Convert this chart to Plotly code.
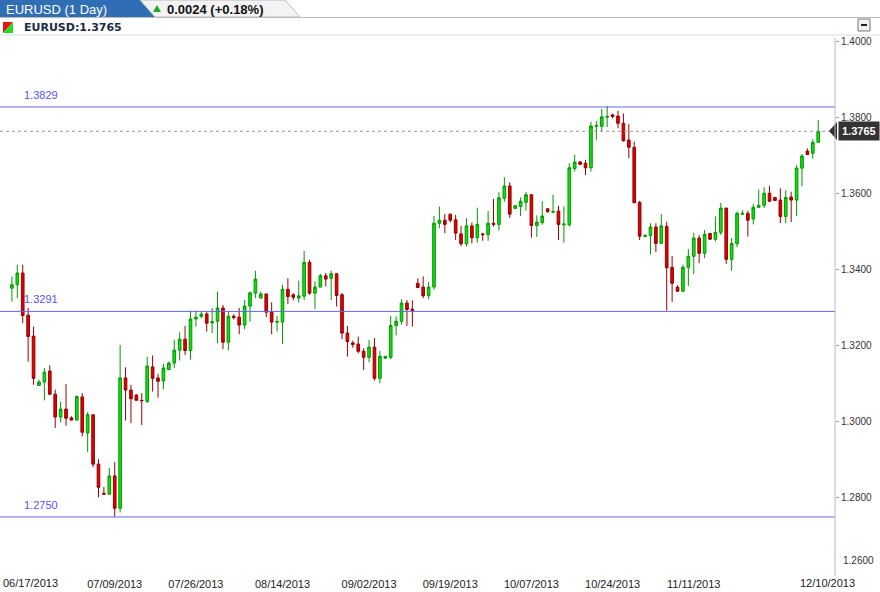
import pandas as pd
import plotly.graph_objects as go

# daily EURUSD candles, Sunday-Friday sessions
days = pd.date_range("2013-06-17", "2013-12-10", freq="D")
days = [d for d in days if d.dayofweek != 5]
labels = [d.strftime("%m/%d/%Y") for d in days]

opens = [1.3352, 1.3361, 1.3392, 1.3281, 1.3226, 1.3096, 1.3105, 1.3134, 1.3073, 1.3013,
         1.3034, 1.3011, 1.3005, 1.3066, 1.2971, 1.3019, 1.2889, 1.2812, 1.2810, 1.2858,
         1.2773, 1.3116, 1.3084, 1.3071, 1.3057, 1.3054, 1.3145, 1.3116, 1.3108, 1.3138,
         1.3155, 1.3189, 1.3218, 1.3188, 1.3271, 1.3278, 1.3284, 1.3261, 1.3265, 1.3300,
         1.3210, 1.3278, 1.3276, 1.3255, 1.3305, 1.3339, 1.3326, 1.3337, 1.3290, 1.3263,
         1.3263, 1.3349, 1.3335, 1.3326, 1.3331, 1.3420, 1.3339, 1.3355, 1.3385, 1.3378,
         1.3390, 1.3335, 1.3234, 1.3208, 1.3205, 1.3186, 1.3170, 1.3197, 1.3115, 1.3168,
         1.3170, 1.3254, 1.3265, 1.3313, 1.3297, 1.3365, 1.3355, 1.3333, 1.3355, 1.3523,
         1.3531, 1.3547, 1.3532, 1.3495, 1.3469, 1.3516, 1.3485, 1.3495, 1.3493, 1.3523,
         1.3520, 1.3589, 1.3621, 1.3562, 1.3567, 1.3578, 1.3598, 1.3517, 1.3525, 1.3561,
         1.3552, 1.3555, 1.3519, 1.3519, 1.3667, 1.3684, 1.3681, 1.3669, 1.3778, 1.3778,
         1.3802, 1.3808, 1.3805, 1.3786, 1.3742, 1.3723, 1.3578, 1.3488, 1.3491, 1.3513,
         1.3470, 1.3515, 1.3407, 1.3355, 1.3344, 1.3407, 1.3436, 1.3484, 1.3444, 1.3496,
         1.3481, 1.3499, 1.3563, 1.3428, 1.3469, 1.3547, 1.3549, 1.3534, 1.3565, 1.3570,
         1.3602, 1.3591, 1.3584, 1.3541, 1.3592, 1.3584, 1.3668, 1.3713, 1.3707, 1.3736]
highs = [1.3383, 1.3414, 1.3414, 1.3300, 1.3251, 1.3111, 1.3142, 1.3149, 1.3085, 1.3054,
         1.3100, 1.3015, 1.3070, 1.3076, 1.3026, 1.3019, 1.2902, 1.2829, 1.2879, 1.2895,
         1.3203, 1.3144, 1.3098, 1.3073, 1.3076, 1.3172, 1.3175, 1.3127, 1.3153, 1.3159,
         1.3216, 1.3236, 1.3253, 1.3293, 1.3293, 1.3291, 1.3291, 1.3300, 1.3343, 1.3308,
         1.3291, 1.3284, 1.3300, 1.3321, 1.3343, 1.3398, 1.3343, 1.3337, 1.3315, 1.3279,
         1.3361, 1.3378, 1.3339, 1.3372, 1.3450, 1.3427, 1.3370, 1.3390, 1.3392, 1.3398,
         1.3392, 1.3339, 1.3253, 1.3214, 1.3225, 1.3194, 1.3216, 1.3221, 1.3187, 1.3174,
         1.3279, 1.3278, 1.3323, 1.3321, 1.3320, 1.3378, 1.3383, 1.3368, 1.3542, 1.3567,
         1.3548, 1.3548, 1.3545, 1.3516, 1.3536, 1.3525, 1.3564, 1.3498, 1.3555, 1.3587,
         1.3605, 1.3644, 1.3631, 1.3569, 1.3591, 1.3605, 1.3600, 1.3544, 1.3581, 1.3562,
         1.3598, 1.3569, 1.3567, 1.3681, 1.3703, 1.3687, 1.3690, 1.3790, 1.3792, 1.3824,
         1.3832, 1.3811, 1.3819, 1.3812, 1.3784, 1.3738, 1.3582, 1.3495, 1.3523, 1.3523,
         1.3547, 1.3527, 1.3437, 1.3360, 1.3414, 1.3455, 1.3498, 1.3492, 1.3505, 1.3498,
         1.3541, 1.3577, 1.3563, 1.3484, 1.3554, 1.3557, 1.3556, 1.3574, 1.3612, 1.3618,
         1.3621, 1.3591, 1.3615, 1.3610, 1.3606, 1.3676, 1.3705, 1.3720, 1.3744, 1.3795]
lows = [1.3317, 1.3326, 1.3260, 1.3159, 1.3098, 1.3096, 1.3057, 1.3072, 1.2984, 1.2999,
        1.2990, 1.3004, 1.3004, 1.2962, 1.2921, 1.2881, 1.2802, 1.2809, 1.2810, 1.2751,
        1.2762, 1.3004, 1.2997, 1.3057, 1.2992, 1.3050, 1.3080, 1.3064, 1.3086, 1.3136,
        1.3142, 1.3162, 1.3176, 1.3164, 1.3251, 1.3273, 1.3238, 1.3234, 1.3207, 1.3192,
        1.3188, 1.3270, 1.3231, 1.3244, 1.3264, 1.3326, 1.3326, 1.3276, 1.3231, 1.3238,
        1.3205, 1.3310, 1.3320, 1.3314, 1.3321, 1.3335, 1.3297, 1.3355, 1.3357, 1.3321,
        1.3304, 1.3218, 1.3172, 1.3195, 1.3181, 1.3137, 1.3157, 1.3109, 1.3102, 1.3166,
        1.3165, 1.3228, 1.3256, 1.3253, 1.3251, 1.3352, 1.3326, 1.3323, 1.3348, 1.3510,
        1.3497, 1.3525, 1.3479, 1.3463, 1.3462, 1.3470, 1.3472, 1.3477, 1.3477, 1.3514,
        1.3504, 1.3580, 1.3537, 1.3562, 1.3542, 1.3556, 1.3485, 1.3487, 1.3519, 1.3550,
        1.3549, 1.3479, 1.3472, 1.3514, 1.3659, 1.3676, 1.3650, 1.3659, 1.3742, 1.3764,
        1.3776, 1.3799, 1.3773, 1.3738, 1.3694, 1.3576, 1.3479, 1.3488, 1.3441, 1.3447,
        1.3469, 1.3293, 1.3316, 1.3343, 1.3343, 1.3358, 1.3389, 1.3418, 1.3431, 1.3479,
        1.3475, 1.3492, 1.3416, 1.3398, 1.3460, 1.3546, 1.3488, 1.3520, 1.3564, 1.3563,
        1.3579, 1.3583, 1.3523, 1.3523, 1.3526, 1.3542, 1.3620, 1.3703, 1.3693, 1.3734]
closes = [1.3361, 1.3392, 1.3280, 1.3225, 1.3115, 1.3105, 1.3131, 1.3073, 1.3013, 1.3034,
          1.3010, 1.3005, 1.3067, 1.2973, 1.3019, 1.2889, 1.2828, 1.2810, 1.2858, 1.2773,
          1.3116, 1.3084, 1.3061, 1.3057, 1.3056, 1.3147, 1.3115, 1.3107, 1.3142, 1.3155,
          1.3189, 1.3218, 1.3188, 1.3271, 1.3276, 1.3284, 1.3260, 1.3264, 1.3300, 1.3210,
          1.3278, 1.3275, 1.3255, 1.3305, 1.3340, 1.3376, 1.3337, 1.3289, 1.3263, 1.3264,
          1.3349, 1.3330, 1.3328, 1.3332, 1.3420, 1.3339, 1.3355, 1.3385, 1.3376, 1.3390,
          1.3333, 1.3234, 1.3212, 1.3204, 1.3186, 1.3170, 1.3197, 1.3115, 1.3173, 1.3172,
          1.3254, 1.3265, 1.3313, 1.3296, 1.3293, 1.3354, 1.3332, 1.3355, 1.3523, 1.3531,
          1.3520, 1.3531, 1.3497, 1.3469, 1.3516, 1.3485, 1.3520, 1.3493, 1.3523, 1.3520,
          1.3590, 1.3621, 1.3547, 1.3569, 1.3581, 1.3598, 1.3517, 1.3526, 1.3542, 1.3554,
          1.3554, 1.3520, 1.3521, 1.3669, 1.3684, 1.3678, 1.3669, 1.3779, 1.3780, 1.3803,
          1.3804, 1.3804, 1.3786, 1.3740, 1.3723, 1.3577, 1.3489, 1.3490, 1.3513, 1.3470,
          1.3516, 1.3406, 1.3365, 1.3344, 1.3407, 1.3436, 1.3484, 1.3444, 1.3494, 1.3481,
          1.3499, 1.3563, 1.3428, 1.3470, 1.3549, 1.3549, 1.3531, 1.3565, 1.3570, 1.3602,
          1.3581, 1.3583, 1.3541, 1.3591, 1.3584, 1.3668, 1.3700, 1.3704, 1.3736, 1.3765]

tick_dates = ["07/09/2013", "07/26/2013", "08/14/2013", "09/02/2013", "09/19/2013",
              "10/07/2013", "10/24/2013", "11/11/2013"]
price_ticks = [1.28, 1.30, 1.32, 1.34, 1.36, 1.38, 1.40]
levels = [1.3829, 1.3291, 1.2750]
last_price = closes[-1]

W, H = 880, 592
L, R, T, B = 0, 45, 38, 16
pw, ph = W - L - R, H - T - B
def px(x):
    return (x - L) / pw
def py(y):
    return (H - B - y) / ph

idx = list(range(len(labels)))
fig = go.Figure()
fig.add_trace(go.Candlestick(
    x=idx, open=opens, high=highs, low=lows, close=closes, text=labels,
    increasing=dict(line=dict(color="#009900", width=1), fillcolor="#11dd11"),
    decreasing=dict(line=dict(color="#990000", width=1), fillcolor="#e00000"),
    whiskerwidth=0, showlegend=False))

shapes = []
annos = []
for lv in levels:
    shapes.append(dict(type="line", xref="paper", x0=0, x1=1, yref="y", y0=lv, y1=lv,
                       line=dict(color="#6666ee", width=1)))
    annos.append(dict(xref="paper", x=px(22), yref="y", y=lv, yshift=12, text=f"{lv:.4f}",
                      showarrow=False, xanchor="left", yanchor="middle",
                      font=dict(size=11, color="#5555ee")))
shapes.append(dict(type="line", xref="paper", x0=0, x1=1, yref="y", y0=last_price, y1=last_price,
                   line=dict(color="#999999", width=1, dash="dot")))
annos.append(dict(xref="paper", x=px(838), yref="y", y=last_price, text=f"<b>{last_price:.4f}</b>",
                  showarrow=False, xanchor="left", yanchor="middle", bgcolor="#333333", borderpad=3,
                  font=dict(size=11, color="white")))
shapes.append(dict(type="path", xref="paper", yref="paper",
                   path=f"M {px(829)} {py(131)} L {px(837)} {py(122)} L {px(837)} {py(140)} Z",
                   fillcolor="#333333", line=dict(width=0)))

# header
shapes += [
    dict(type="rect", xref="paper", yref="paper", x0=px(0), x1=px(W), y0=py(38), y1=py(0),
         fillcolor="white", line=dict(width=0), layer="below"),
    dict(type="path", xref="paper", yref="paper",
         path=f"M {px(0)} {py(17)} L {px(0)} {py(0)} L {px(140)} {py(0)} L {px(155)} {py(17)} Z",
         fillcolor="#2f6db5", line=dict(width=0)),
    dict(type="path", xref="paper", yref="paper",
         path=f"M {px(155)} {py(17)} L {px(140)} {py(0)} L {px(285)} {py(0)} L {px(300)} {py(17)} Z",
         fillcolor="#f3f3f3", line=dict(color="#bbbbbb", width=1)),
    dict(type="line", xref="paper", yref="paper", x0=px(0), x1=px(W), y0=py(17.5), y1=py(17.5),
         line=dict(color="#bbbbbb", width=1)),
    dict(type="line", xref="paper", yref="paper", x0=px(0), x1=px(W), y0=py(35), y1=py(35),
         line=dict(color="#dddddd", width=1)),
    dict(type="path", xref="paper", yref="paper",
         path=f"M {px(3)} {py(22)} L {px(13)} {py(22)} L {px(3)} {py(33)} Z",
         fillcolor="#ee1111", line=dict(width=0)),
    dict(type="path", xref="paper", yref="paper",
         path=f"M {px(13)} {py(22)} L {px(13)} {py(33)} L {px(3)} {py(33)} Z",
         fillcolor="#22dd22", line=dict(width=0)),
    dict(type="path", xref="paper", yref="paper",
         path=f"M {px(153)} {py(12)} L {px(161)} {py(12)} L {px(157)} {py(5)} Z",
         fillcolor="#22aa22", line=dict(width=0)),
    dict(type="rect", xref="paper", yref="paper", x0=px(858), x1=px(870), y0=py(31), y1=py(19),
         fillcolor="#f4f4f4", line=dict(color="#777777", width=1)),
    dict(type="line", xref="paper", yref="paper", x0=px(861), x1=px(867), y0=py(25), y1=py(25),
         line=dict(color="#222222", width=2)),
    dict(type="line", xref="paper", yref="paper", x0=px(835), x1=px(835), y0=0, y1=1,
         line=dict(color="#bbbbbb", width=1)),
]
annos += [
    dict(xref="paper", yref="paper", x=px(4), y=py(9), text="EURUSD (1 Day)", showarrow=False,
         xanchor="left", yanchor="middle", font=dict(size=13, color="white", family="Arial")),
    dict(xref="paper", yref="paper", x=px(165), y=py(9), text="<b>0.0024 (+0.18%)</b>", showarrow=False,
         xanchor="left", yanchor="middle", font=dict(size=13, color="#111111", family="Arial")),
    dict(xref="paper", yref="paper", x=px(22), y=py(27), text="<b>EURUSD:1.3765</b>", showarrow=False,
         xanchor="left", yanchor="middle",
         font=dict(size=11, color="#1a2a44", family="Verdana, DejaVu Sans")),
    dict(xref="paper", yref="paper", x=px(1), y=py(583), text=labels[0], showarrow=False,
         xanchor="left", yanchor="middle", font=dict(size=11, color="#222222")),
    dict(xref="paper", yref="paper", x=px(857), y=py(583), text=labels[-1], showarrow=False,
         xanchor="right", yanchor="middle", font=dict(size=11, color="#222222")),
    dict(xref="paper", yref="paper", x=px(841), y=py(560), text="1.2600", showarrow=False,
         xanchor="left", yanchor="middle", font=dict(size=10, color="#333333")),
]

tickvals = [labels.index(t) for t in tick_dates]
fig.update_layout(
    width=W, height=H, margin=dict(l=L, r=R, t=T, b=B),
    paper_bgcolor="white", plot_bgcolor="white",
    font=dict(family="Arial, Liberation Sans", size=11, color="#222222"),
    shapes=shapes, annotations=annos,
    xaxis=dict(range=[-2.2, 152.1], tickvals=tickvals, ticktext=tick_dates,
               showgrid=False, zeroline=False, rangeslider=dict(visible=False),
               ticks="", tickfont=dict(size=11), automargin=False),
    yaxis=dict(range=[1.25947, 1.40105], side="right", tickvals=price_ticks,
               tickformat=".4f", showgrid=False, zeroline=False, ticks="outside",
               ticklen=3, tickcolor="#999999", tickfont=dict(size=10, color="#333333"),
               automargin=False),
)
fig.write_html("out.html", config={"displayModeBar": False},
               post_script="document.body.style.margin='0';")
